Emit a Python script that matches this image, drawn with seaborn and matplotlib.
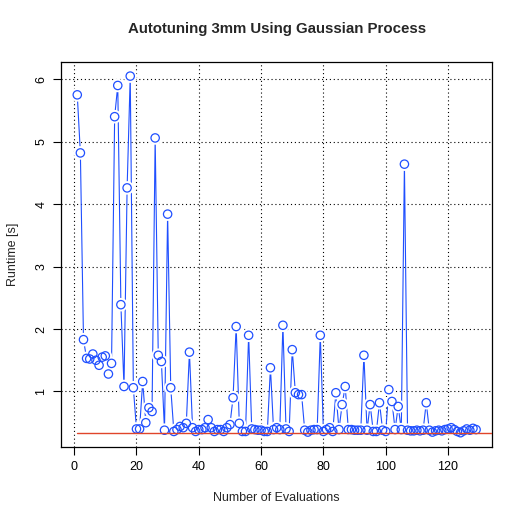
import matplotlib
matplotlib.use('Agg')
import matplotlib.pyplot as plt
import seaborn as sns
import numpy as np

# Runtime per evaluation
runtime = [
    5.75, 4.82, 1.83, 1.53, 1.52, 1.60, 1.50, 1.42, 1.55, 1.57,
    1.28, 1.45, 5.40, 5.90, 2.39, 1.08, 4.26, 6.05, 1.06, 0.40,
    0.40, 1.16, 0.50, 0.74, 0.68, 5.06, 1.58, 1.48, 0.38, 3.84,
    1.06, 0.36, 0.39, 0.44, 0.42, 0.49, 1.63, 0.42, 0.36, 0.39,
    0.39, 0.42, 0.55, 0.42, 0.36, 0.39, 0.39, 0.36, 0.42, 0.47,
    0.90, 2.04, 0.49, 0.36, 0.36, 1.90, 0.40, 0.39, 0.38, 0.38,
    0.36, 0.36, 1.38, 0.39, 0.42, 0.39, 2.06, 0.40, 0.36, 1.67,
    0.98, 0.95, 0.95, 0.38, 0.35, 0.38, 0.39, 0.39, 1.90, 0.36,
    0.39, 0.42, 0.36, 0.98, 0.39, 0.79, 1.08, 0.39, 0.39, 0.38,
    0.38, 0.38, 1.58, 0.38, 0.79, 0.36, 0.36, 0.82, 0.38, 0.36,
    1.03, 0.84, 0.39, 0.76, 0.39, 4.64, 0.38, 0.37, 0.37, 0.38,
    0.37, 0.38, 0.82, 0.38, 0.35, 0.37, 0.38, 0.37, 0.39, 0.40,
    0.42, 0.39, 0.36, 0.34, 0.37, 0.40, 0.38, 0.41, 0.39,
]
evaluations = list(range(1, len(runtime) + 1))
x_ticks = [0, 20, 40, 60, 80, 100, 120]
y_ticks = [1, 2, 3, 4, 5, 6]

sns.set_style('white')
plt.rcParams['font.family'] = ['Liberation Sans', 'DejaVu Sans']

blue = '#1f4fff'

fig = plt.figure(figsize=(5.24, 5.24), dpi=100)
ax = fig.add_axes([0.117, 0.147, 0.822, 0.735])

# connecting lines (type "b" style: gaps around points via white discs)
sns.lineplot(x=evaluations, y=runtime, ax=ax, color=blue, lw=0.8, zorder=2)
ax.scatter(evaluations, runtime, s=95, color='white', edgecolors='none', zorder=3)
sns.scatterplot(x=evaluations, y=runtime, ax=ax, s=36, facecolor='none',
                edgecolor=blue, linewidth=0.9, zorder=4)

# best runtime so far
best = min(runtime)
n = len(runtime)
ax.plot([1, n + 5.12], [best, best], color='#e0452a', lw=1.0, zorder=5)

# R-like axis ranges (4% padding)
pad_x = (n - 1) * 0.04
pad_y = (max(runtime) - best) * 0.04
ax.set_xlim(1 - pad_x, n + pad_x)
ax.set_ylim(best - pad_y, max(runtime) + pad_y)

ax.set_xticks(x_ticks)
ax.set_yticks(y_ticks)
ax.set_yticklabels([str(t) for t in y_ticks], rotation=90, va='center')
ax.tick_params(axis='both', direction='out', length=6, width=0.8, colors='black',
               labelsize=9, bottom=True, left=True, pad=4)

for v in x_ticks:
    ax.axvline(v, color='black', ls=(0, (1, 2.5)), lw=0.8, zorder=1)
for v in y_ticks:
    ax.axhline(v, color='black', ls=(0, (1, 2.5)), lw=0.8, zorder=1)

for s in ax.spines.values():
    s.set_color('black')
    s.set_linewidth(0.9)

ax.set_title('Autotuning 3mm Using Gaussian Process', fontsize=10.8,
             fontweight='bold', pad=21)
ax.set_xlabel('Number of Evaluations', fontsize=9, labelpad=14)
ax.set_ylabel('Runtime [s]', fontsize=9, labelpad=12)

fig.savefig('out.png', dpi=100)
